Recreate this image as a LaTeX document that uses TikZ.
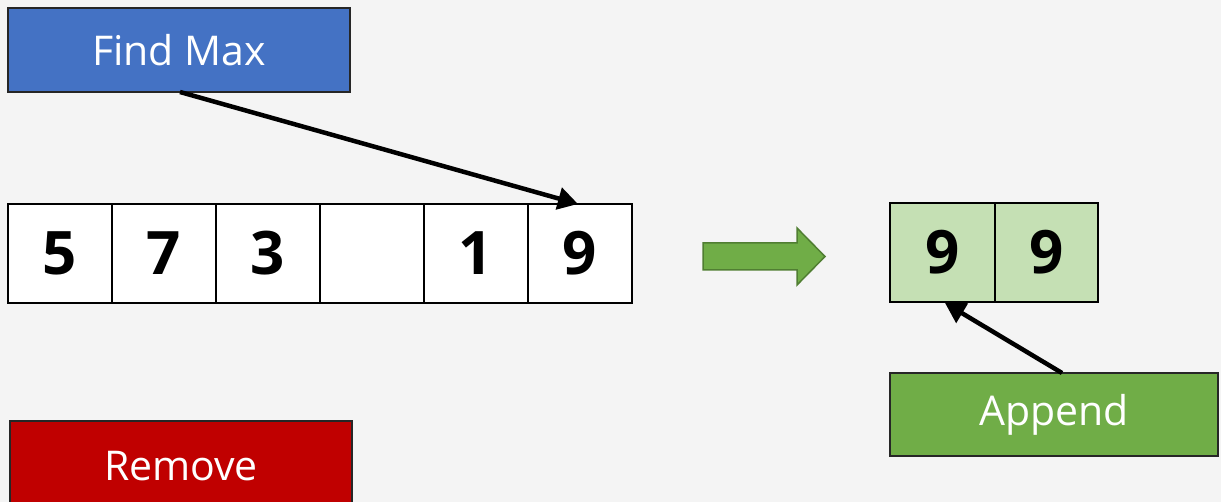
\documentclass[tikz,border=0pt]{standalone}
\usepackage{fontspec}
\setmainfont{Open Sans}
\usetikzlibrary{arrows.meta}
\definecolor{bg}{HTML}{F4F4F4}
\definecolor{blueb}{HTML}{4472C4}
\definecolor{greenb}{HTML}{70AD47}
\definecolor{greenl}{HTML}{C5E0B4}
\definecolor{greend}{HTML}{507E32}
\definecolor{redb}{HTML}{C00000}
\tikzset{
  label box/.style={draw=black!85, line width=2pt, text=white, font=\fontsize{41}{48}\selectfont, inner sep=0pt},
  cell/.style={draw=black, line width=2pt, minimum width=104pt, minimum height=99pt, inner sep=0pt, font=\fontsize{60}{66}\selectfont\bfseries},
  pointer/.style={line width=4.5pt, -{Triangle[length=20pt,width=22pt]}}
}
\begin{document}
\begin{tikzpicture}[x=1pt,y=-1pt]
\fill[bg] (0,0) rectangle (1221,502);
\useasboundingbox (0,0) rectangle (1221,502);
% Find Max
\node[label box, fill=blueb, minimum width=342pt, minimum height=84pt] (find) at (179,50) {Find Max};
% array
\foreach \v [count=\i] in {5,7,3,{},1,9} {
  \node[cell, fill=white] (c\i) at ({8+52+104*(\i-1)},253.5) {\v};
}
% result
\node[cell, fill=greenl, minimum width=105pt] (r1) at (942.5,252.5) {9};
\node[cell, fill=greenl, minimum width=103pt] (r2) at (1046.5,252.5) {9};
% Append
\node[label box, fill=greenb, minimum width=328pt, minimum height=83pt] (app) at (1054,414.5) {Append};
% Remove
\node[label box, fill=redb, minimum width=342pt, minimum height=90pt] (rem) at (181,466) {Remove};
% block arrow
\draw[greend, fill=greenb, line width=1.5pt] (703,243) -- (797,243) -- (797,228) -- (825,256.5) -- (797,285) -- (797,270) -- (703,270) -- cycle;
% pointers
\coordinate (fs) at (180,92);
\coordinate (ft) at (578,204);
\draw[pointer] (fs) -- (ft);
\coordinate (as) at (1062,373);
\coordinate (at) at (945,303);
\draw[pointer] (as) -- (at);
\end{tikzpicture}
\end{document}
